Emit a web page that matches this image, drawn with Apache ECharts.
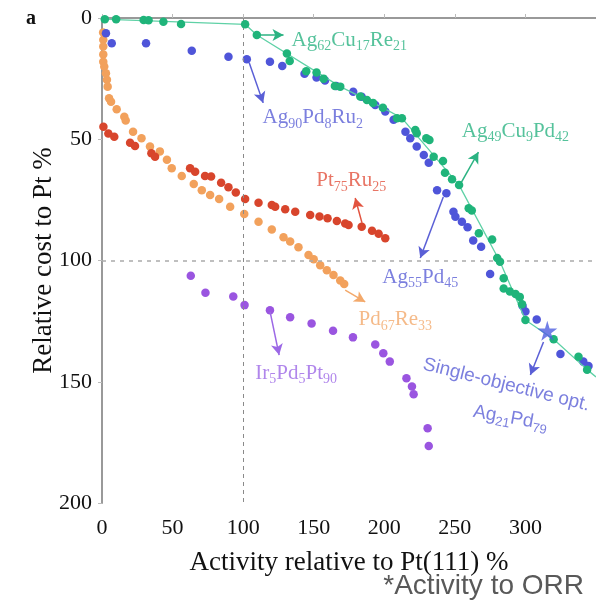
<!DOCTYPE html>
<html><head><meta charset="utf-8">
<script src="https://cdn.jsdelivr.net/npm/echarts@6/dist/echarts.min.js"></script>
<style>html,body{margin:0;padding:0;background:#fff}#c{width:596px;height:604px}</style>
</head><body><div id="c"></div><script>
// ---- data ----
const xTicks = [0, 50, 100, 150, 200, 250, 300];
const yTicks = [0, 50, 100, 150, 200];

const agCuPoints = [[2,0.5],[10,0.5],[29.5,0.8],[33,0.9],[43.5,1.5],[56,2.5],[101.4,2.6],[109.7,7],[131,14.6],[133,17.7],[144.7,22],[152,22.5],[157,25],[165,28],[168.8,28.3],[183,32.4],[187.7,33.8],[192,35],[199,37],[209,41.3],[212.5,41.3],[222,46.2],[223,47.5],[229.8,49.6],[232,50.3],[235,57.2],[241.6,59],[243,63.8],[248,66.5],[253,68.9],[259.8,78.5],[262,79.4],[267,88.8],[276.4,91.3],[280,99],[282,100.5],[284.6,107.3],[284.6,111.5],[289,112.8],[293,113.8],[296,115],[297.6,118],[300,124.5],[320,132.5],[337.6,139.7],[343.7,145]];
const paretoFront = [[0,0.5],[101.4,2.6],[109.7,7],[168.8,28.3],[199,37],[212.5,41.3],[253,68.9],[282,100.5],[300,124.5],[320,132.5],[343.7,145],[350,148]];
const agPdPoints = [[2.8,6.3],[6.9,10.4],[31.2,10.4],[63.6,13.5],[89.6,16],[102.6,17],[119,18],[127.7,19.8],[143.5,23],[152,24.5],[158,25.8],[166,28],[178,30.4],[184,32.5],[193.6,35.9],[200.7,38.6],[206.6,42],[215,46.9],[218.4,49.6],[223,53],[228,56.5],[231.5,59.7],[237.4,71],[244,72.3],[249,79.9],[250.4,82],[255,84],[259,86.3],[263,91.8],[268.6,94.3],[275,105.6],[298,118.8],[300,121],[308,124.3],[324.8,138.6],[341,141.7],[344.7,143.5]];
const singleObjective = [[315.5,129]];
const ptRuPoints = [[1,44.8],[4.5,47.6],[8.7,49],[19.9,51.4],[23.4,52.8],[35,55.8],[37.6,57.2],[62.4,62],[66,63.4],[73,65.2],[77.3,65.4],[84.4,67.9],[89.6,69.8],[94.8,72],[101.4,74.6],[110.9,76.2],[120.3,77.1],[122.7,77.8],[129.8,78.9],[136.9,79.9],[147.5,81.2],[154.1,81.9],[159.8,82.6],[166.4,83.7],[172.3,84.7],[174.7,85.4],[184,86.1],[191.3,87.7],[196,89],[200.7,90.8]];
const pdRePoints = [[0.8,6],[0.9,9],[0.9,11.8],[0.9,15],[0.9,18],[1.6,20],[2.8,22.8],[3.5,25.5],[4,28.3],[5,33.1],[6.4,34.5],[10.4,37.6],[15.8,40.7],[16.8,42.3],[22,46.9],[28,49.6],[34,53],[41,55],[46,58.5],[49.4,62],[56.5,65.2],[65,68.5],[70.7,71],[76.6,73],[83,74.6],[90.8,77.8],[100.8,80.8],[110.9,84],[120.3,87.2],[128.6,90.4],[133.3,92.2],[139.2,94.5],[146.3,97.7],[150,99.5],[154.6,102],[159.3,104],[164,106],[168.8,108.2],[171.6,109.7]];
const irPdPtPoints = [[62.9,106.3],[73.3,113.3],[93,114.8],[101,118.4],[119,120.5],[133.3,123.4],[148.5,126],[163.7,129],[177.8,131.7],[193.6,134.6],[199.3,138.2],[203.9,141.7],[215.7,148.6],[219.6,152],[220.8,155.2],[230.7,169.2],[231.5,176.5]];

// annotation texts and arrows (anchors in data units)
const labelTexts = [
  {parts:['Ag','62','Cu','17','Re','21'], at:[175.2,9.1], c:'green'},
  {parts:['Ag','90','Pd','8','Ru','2'], at:[149.3,41.2], c:'blue'},
  {parts:['Ag','49','Cu','9','Pd','42'], at:[292.9,46.6], c:'green'},
  {parts:['Pt','75','Ru','25'], at:[176.6,67.2], c:'red'},
  {parts:['Ag','55','Pd','45'], at:[225.5,106.8], c:'blue'},
  {parts:['Pd','67','Re','33'], at:[207.8,124.5], c:'orange'},
  {parts:['Ir','5','Pd','5','Pt','90'], at:[137.6,146.4], c:'purple'},
  {parts:['Single-objective opt.'], at:[286.5,151.3], c:'blue', rot:-14, sans:true},
  {parts:['Ag','21','Pd','79'], at:[289.4,165], c:'blue', rot:-10, sans:true}
];
const arrowPairs = [
  {from:[110.6,7.0], to:[128.6,7.0], c:'green'},
  {from:[104.3,18.5], to:[114.2,35], c:'blue'},
  {from:[254.4,68], to:[266.7,55.3], c:'green'},
  {from:[184.2,84.5], to:[179.4,74.2], c:'red'},
  {from:[241.8,73.8], to:[225.5,99], c:'blue'},
  {from:[172.3,112.2], to:[186.5,117.1], c:'orange'},
  {from:[119.1,121.2], to:[125.5,139], c:'purple'},
  {from:[312.8,133.6], to:[303.5,147.2], c:'blue'}
];

// ---- styles ----
const dotColors = {green:'#1fb47a', blue:'#4f55d9', red:'#d8452c', orange:'#f2a15c', purple:'#9a55e0'};
const textColors = {green:'#2bb382', blue:'#5a5fd6', red:'#e2533f', orange:'#f3a96b', purple:'#9c68e6'};
const SERIF = 'Liberation Serif';
const SANS = 'Liberation Sans';
const star = 'path://M50,0 L61,35 L98,35 L68,57 L79,91 L50,70 L21,91 L32,57 L2,35 L39,35 Z';

function richFor(lbl){
  const col = textColors[lbl.c];
  const fam = lbl.sans ? SANS : SERIF;
  const big = lbl.sans ? 19 : 21, small = lbl.sans ? 13 : 14;
  return {
    m:{fontFamily:fam, fontSize:big, color:col, lineHeight:26},
    s:{fontFamily:fam, fontSize:small, color:col, padding:[12,0,0,0], lineHeight:26}
  };
}
function fmt(parts){
  return parts.map((p,i)=> (i%2===0?'{m|':'{s|') + p + '}').join('');
}

const labelSeries = labelTexts.map(lbl => ({
  type:'scatter', symbolSize:0, silent:true, z:10,
  data:[lbl.at],
  label:{show:true, position:'inside', rotate:lbl.rot||0, formatter:fmt(lbl.parts), rich:richFor(lbl)}
}));

function dots(data, color, z){
  return {type:'scatter', data, symbolSize:8.5, z:z||2, itemStyle:{color, opacity:1}};
}

const chart = echarts.init(document.getElementById('c'), null, {renderer:'canvas'});
chart.setOption({
  animation:false,
  backgroundColor:'#fff',
  grid:{left:102, right:0, top:18, bottom:101, containLabel:false},
  xAxis:[{
    type:'value', min:0, max:350, interval:50,
    name:'Activity relative to Pt(111) %', nameLocation:'middle', nameGap:46, nameMoveOverlap:false,
    nameTextStyle:{fontFamily:SERIF, fontSize:27, color:'#111'},
    axisLine:{show:true, lineStyle:{color:'#999', width:2}},
    axisTick:{show:true, inside:true, length:4, lineStyle:{color:'#bbb'}},
    axisLabel:{fontFamily:SERIF, fontSize:22, color:'#111', margin:14, showMaxLabel:false,
      formatter: v => xTicks.includes(v) ? String(v) : ''},
    splitLine:{show:false}
  },{
    type:'value', position:'top', min:0, max:350,
    axisLine:{show:true, onZero:false, lineStyle:{color:'#999', width:2}},
    axisTick:{show:false}, axisLabel:{show:false}, splitLine:{show:false}
  }],
  yAxis:{
    type:'value', inverse:true, min:0, max:200, interval:50,
    name:'Relative cost to Pt %', nameLocation:'middle', nameGap:45, nameRotate:90, nameMoveOverlap:false,
    nameTextStyle:{fontFamily:SERIF, fontSize:27, color:'#111'},
    axisLine:{show:true, lineStyle:{color:'#999', width:2}},
    axisTick:{show:true, length:4, lineStyle:{color:'#bbb'}},
    axisLabel:{fontFamily:SERIF, fontSize:22, color:'#111', margin:10,
      formatter: v => yTicks.includes(v) ? String(v) : ''},
    splitLine:{show:false}
  },
  series:[
    {type:'line', data:[], markLine:{silent:true, symbol:['none','none'], label:{show:false},
      data:[
        {xAxis:100, lineStyle:{color:'#8a8a8a', type:[4,4], width:1}},
        {yAxis:100, lineStyle:{color:'#aaaaaa', type:[4,5], width:1.5}}
      ]}},
    dots(agPdPoints, dotColors.blue, 3),
    {type:'line', data:paretoFront, symbol:'none', z:4, lineStyle:{color:'#5fd1a6', width:1.3}},
    dots(agCuPoints, dotColors.green, 5),
    dots(ptRuPoints, dotColors.red, 3),
    dots(pdRePoints, dotColors.orange, 2),
    dots(irPdPtPoints, dotColors.purple, 3),
    {type:'scatter', data:singleObjective, symbol:star, symbolSize:20, z:6, itemStyle:{color:'#4f5fe0'}},
    {type:'line', data:[], z:8, markLine:{silent:true, symbol:['none','arrow'], symbolSize:[9,11], label:{show:false},
      data: arrowPairs.map(a => [
        {coord:a.from, lineStyle:{color:textColors[a.c], width:1.5, type:'solid'}},
        {coord:a.to}
      ])}},
    ...labelSeries
  ],
  graphic:[
    {type:'text', left:26, top:9, style:{text:'a', font:'bold 20px "Liberation Serif"', fill:'#111'}},
    {type:'text', right:12, bottom:4, style:{text:'*Activity to ORR', font:'28px "Liberation Sans"', fill:'#595959'}}
  ]
});
</script></body></html>
